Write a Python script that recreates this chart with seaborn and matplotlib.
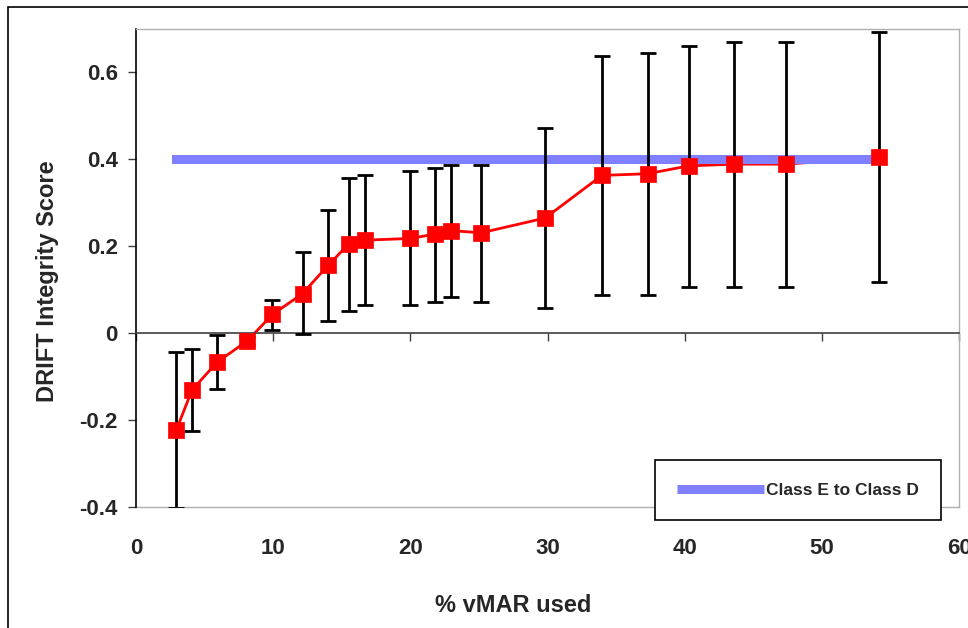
import matplotlib
matplotlib.use("Agg")
import matplotlib.pyplot as plt
from matplotlib.lines import Line2D
from matplotlib.patches import Rectangle
import numpy as np
import pandas as pd
import seaborn as sns

# % vMAR used and the DRIFT integrity score (mean with lower/upper bounds)
vmar_pct = [2.94, 4.08, 5.9, 8.1, 9.95, 12.14, 14.0, 15.5, 16.66, 20.0,
            21.8, 22.96, 25.17, 29.83, 33.96, 37.3, 40.3, 43.6, 47.4, 54.2]
score = [-0.223, -0.131, -0.067, -0.018, 0.043, 0.091, 0.156, 0.205, 0.214, 0.218,
         0.228, 0.236, 0.231, 0.265, 0.363, 0.367, 0.385, 0.389, 0.389, 0.405]
score_hi = [-0.044, -0.037, -0.005, -0.008, 0.077, 0.186, 0.284, 0.356, 0.364, 0.373,
            0.380, 0.386, 0.386, 0.473, 0.637, 0.645, 0.660, 0.670, 0.670, 0.694]
score_lo = [-0.403, -0.226, -0.129, -0.028, 0.007, -0.003, 0.028, 0.052, 0.064, 0.064,
            0.072, 0.083, 0.072, 0.057, 0.087, 0.087, 0.107, 0.107, 0.107, 0.117]

# Class threshold line
threshold_label = "Class E to Class D"
threshold_value = 0.4

x_ticks = [0, 10, 20, 30, 40, 50, 60]
x_ticklabels = ["0", "10", "20", "30", "40", "50", "60"]
y_ticks = [-0.4, -0.2, 0, 0.2, 0.4, 0.6]
y_ticklabels = ["-0.4", "-0.2", "0", "0.2", "0.4", "0.6"]

sns.set_theme(style="white")
plt.rcParams["font.family"] = ["Liberation Sans", "DejaVu Sans"]
plt.rcParams["font.weight"] = "bold"

W, H = 968, 628
fig = plt.figure(figsize=(W / 100, H / 100), dpi=100)
fig.patch.set_facecolor("white")

# Outer chart frame
fig.patches.append(Rectangle((8 / W, -0.1), 1.2, (H - 7) / H + 0.1,
                             transform=fig.transFigure, fill=False,
                             edgecolor="black", linewidth=1.2, zorder=0))

ax = fig.add_axes([136 / W, (H - 507) / H, (959 - 136) / W, (507 - 29) / H])
ax.set_facecolor("white")

df = pd.DataFrame({"vmar": vmar_pct, "score": score,
                   "hi": score_hi, "lo": score_lo})
df["thr"] = threshold_value

# red connecting line (drawn under the threshold band)
sns.lineplot(data=df, x="vmar", y="score", ax=ax, color="#ff0000",
             linewidth=2.0, zorder=1, estimator=None, sort=False)
# threshold band
sns.lineplot(data=df, x="vmar", y="thr", ax=ax, color="#8080ff",
             linewidth=6.5, zorder=2, estimator=None,
             solid_capstyle="projecting")
# error bars
yerr = np.vstack([df["score"] - df["lo"], df["hi"] - df["score"]])
ax.errorbar(df["vmar"], df["score"], yerr=yerr, fmt="none", ecolor="black",
            elinewidth=2.0, capsize=5.8, capthick=2.0, zorder=3)
# square markers on top
sns.scatterplot(data=df, x="vmar", y="score", ax=ax, marker="s", s=135,
                color="#ff0000", edgecolor="#ff0000", linewidth=0.5,
                zorder=4, legend=False)

ax.set_xlim(0, 60)
ax.set_ylim(-0.4, 0.7)

# plot-area border: dotted grey, solid left axis
for side in ["top", "right"]:
    ax.spines[side].set_visible(True)
    ax.spines[side].set_linestyle((0, (1, 1)))
    ax.spines[side].set_color("#b0b0b0")
    ax.spines[side].set_linewidth(1.0)
ax.spines["left"].set_color("black")
ax.spines["left"].set_linewidth(1.2)

# category axis crossing at y = 0
ax.spines["bottom"].set_position(("data", 0))
ax.spines["bottom"].set_color("#404040")
ax.spines["bottom"].set_linewidth(1.2)
ax.set_xticks(x_ticks)
ax.tick_params(axis="x", direction="out", length=6, width=1.0,
               color="#404040", labelbottom=False, bottom=True)

# x labels along the bottom of the plot area
sec = ax.secondary_xaxis("bottom")
sec.set_xticks(x_ticks, labels=x_ticklabels)
sec.tick_params(axis="x", length=0, pad=22, labelsize=16)
sec.spines["bottom"].set_linestyle((0, (1, 1)))
sec.spines["bottom"].set_color("#b0b0b0")
sec.spines["bottom"].set_linewidth(1.0)
for lab in sec.get_xticklabels():
    lab.set_fontweight("bold")

ax.set_yticks(y_ticks, labels=y_ticklabels)
ax.tick_params(axis="y", direction="out", length=6, width=1.0,
               color="#404040", left=True, pad=7, labelsize=16)
for lab in ax.get_yticklabels():
    lab.set_fontweight("bold")

ax.set_xlabel("")
ax.set_ylabel("")
fig.text(513 / W, 1 - 605 / H, "% vMAR used", ha="center", va="center",
         fontsize=17, fontweight="bold")
fig.text(48 / W, 1 - 281 / H, "DRIFT Integrity Score", ha="center",
         va="center", rotation=90, fontsize=17, fontweight="bold")

handle = Line2D([], [], color="#8080ff", linewidth=6.5,
                solid_capstyle="butt")
leg = fig.legend([handle], [threshold_label], loc="center",
                 bbox_to_anchor=(798 / W, 1 - 490 / H),
                 bbox_transform=fig.transFigure,
                 prop={"weight": "bold", "size": 12.5},
                 frameon=True, fancybox=False, shadow=False, framealpha=1,
                 edgecolor="black", borderpad=1.3, handlelength=5.0,
                 handletextpad=0.1)
leg.get_frame().set_linewidth(1.2)

fig.savefig("out.png", dpi=100, facecolor="white")
